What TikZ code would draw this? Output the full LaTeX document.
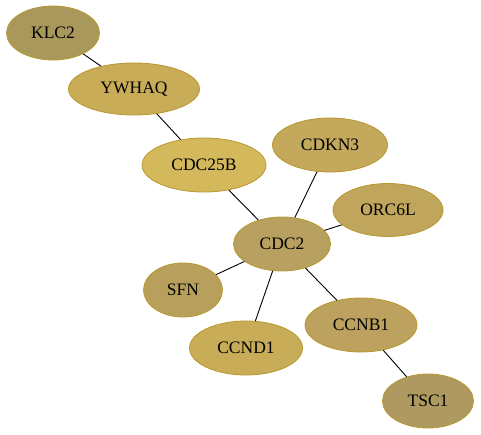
\documentclass[tikz,border=0pt]{standalone}
\usepackage{fontspec}
\setmainfont{Liberation Serif}
\usetikzlibrary{shapes.geometric}
\definecolor{bordc}{HTML}{B8982E}

\begin{document}
\begin{tikzpicture}[x=1pt,y=-1pt,every node/.style={font=\fontsize{17.5}{19}\selectfont},
  gene/.style={ellipse,draw=bordc,line width=0.8pt,inner sep=0pt,minimum height=54pt},
  link/.style={line width=0.9pt}]
\useasboundingbox (0,0) rectangle (481,435);
\node[gene,fill={rgb,255:red,168;green,152;blue,92},minimum width=93pt] (klc) at (53,33) {KLC2};
\node[gene,fill={rgb,255:red,200;green,172;blue,88},minimum width=131pt,minimum height=52pt] (ywhaq) at (134,89) {YWHAQ};
\node[gene,fill={rgb,255:red,212;green,184;blue,92},minimum width=124pt] (cdc25b) at (204,165) {CDC25B};
\node[gene,fill={rgb,255:red,196;green,168;blue,92},minimum width=115pt] (cdkn) at (330,145) {CDKN3};
\node[gene,fill={rgb,255:red,192;green,165;blue,92},minimum width=110pt,minimum height=53pt] (orc) at (388,210) {ORC6L};
\node[gene,fill={rgb,255:red,184;green,160;blue,96},minimum width=97pt] (cdc) at (282,244) {CDC2};
\node[gene,fill={rgb,255:red,184;green,160;blue,92},minimum width=79pt] (sfn) at (183,290) {SFN};
\node[gene,fill={rgb,255:red,200;green,172;blue,88},minimum width=113pt] (ccnd) at (246,348) {CCND1};
\node[gene,fill={rgb,255:red,188;green,162;blue,94},minimum width=112pt] (ccnb) at (361,325) {CCNB1};
\node[gene,fill={rgb,255:red,174;green,154;blue,96},minimum width=91pt] (tsc) at (428,401) {TSC1};
\draw[link] (klc) -- (ywhaq); \draw[link] (ywhaq) -- (cdc25b); \draw[link] (cdc25b) -- (cdc);
\draw[link] (cdkn) -- (cdc); \draw[link] (orc) -- (cdc); \draw[link] (sfn) -- (cdc);
\draw[link] (ccnd) -- (cdc); \draw[link] (ccnb) -- (cdc); \draw[link] (ccnb) -- (tsc);
\end{tikzpicture}
\end{document}
